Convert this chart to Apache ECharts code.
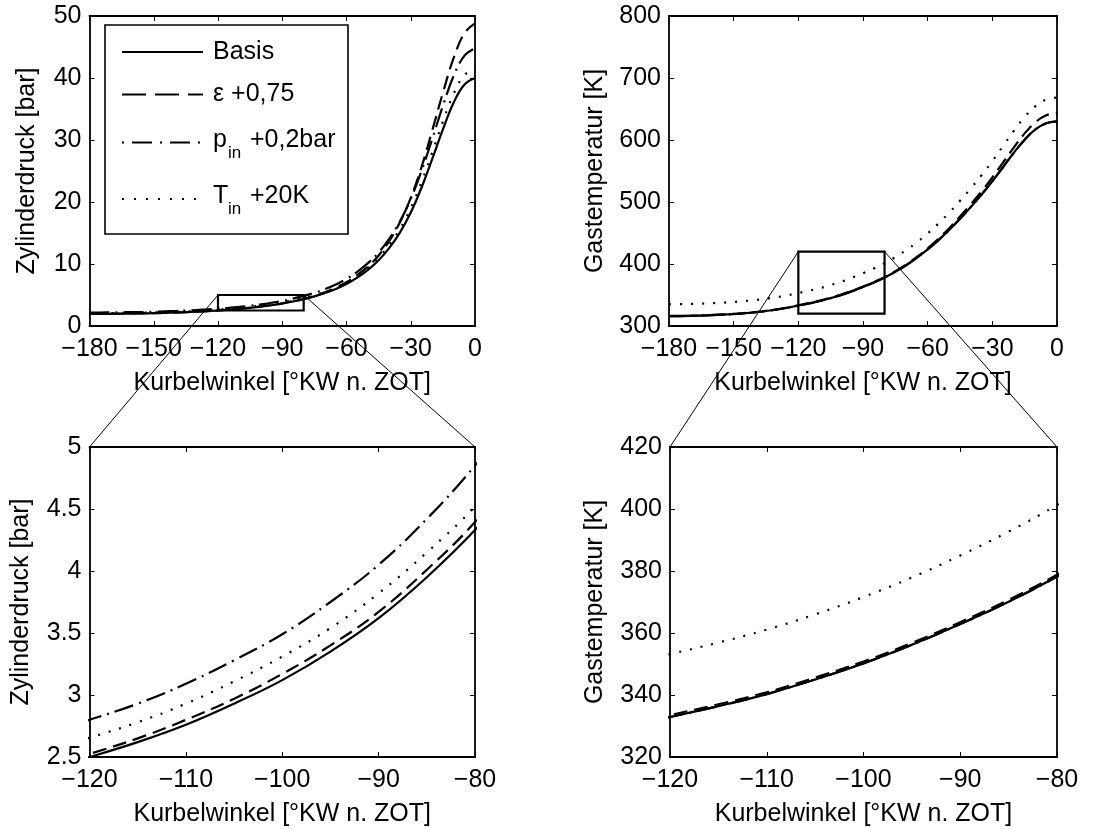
<!DOCTYPE html>
<html><head><meta charset="utf-8">
<script src="https://cdn.jsdelivr.net/npm/echarts/dist/echarts.min.js"></script>
<style>html,body{margin:0;padding:0;background:#fff}#c{width:1097px;height:829px}</style>
</head><body><div id="c"></div>
<script>
// ---- data ----
const angles = [-180,-175,-170,-165,-160,-155,-150,-145,-140,-135,-130,-125,-120,-115,-110,-105,-100,-95,-90,-85,-80,-75,-70,-65,-60,-55,-50,-45,-40,-35,-30,-25,-20,-15,-10,-5,0];

// Zylinderdruck [bar]
const pBasis = [1.95,1.95,1.96,1.975,2.00,2.03,2.065,2.11,2.16,2.225,2.30,2.39,2.50,2.62,2.76,2.93,3.12,3.35,3.62,3.95,4.33,4.78,5.32,5.98,6.78,7.80,9.05,10.6,12.6,15.1,18.3,22.3,26.9,31.7,36.0,38.9,40.0];
const pEps   = [1.97,1.97,1.98,1.99,2.02,2.05,2.08,2.13,2.18,2.24,2.32,2.41,2.525,2.65,2.80,2.97,3.17,3.40,3.67,4.01,4.395,4.88,5.45,6.17,7.05,8.19,9.59,11.38,13.73,16.76,20.68,25.6,31.5,37.6,43.2,47.2,48.8];
const pPin   = [2.18,2.18,2.20,2.21,2.24,2.27,2.31,2.36,2.42,2.49,2.58,2.68,2.80,2.93,3.09,3.28,3.49,3.75,4.05,4.42,4.85,5.35,5.96,6.70,7.59,8.74,10.14,11.87,14.11,16.91,20.50,24.98,30.13,35.50,40.32,43.57,44.8];
const pTin   = [2.07,2.07,2.08,2.10,2.12,2.16,2.19,2.24,2.29,2.36,2.44,2.54,2.655,2.78,2.93,3.11,3.31,3.54,3.82,4.15,4.52,4.99,5.53,6.22,7.05,8.11,9.41,11.02,13.10,15.70,19.03,23.19,27.98,32.97,37.44,40.46,41.6];

// Gastemperatur [K]
const tBasis = [316,316,316.3,316.8,317.5,318.3,319.3,320.6,322.2,324.2,326.6,329.5,332.9,336.4,340.3,345.0,350.2,356.2,362.9,370.1,378.2,387.5,398.0,410.0,423.5,438.5,455.0,473.0,492.0,512.0,533.5,556.5,579.5,600.5,617.0,627.0,630.0];
const tEps   = [316.3,316.3,316.6,317.1,317.8,318.6,319.6,320.9,322.5,324.5,326.9,329.8,333.5,337.0,340.9,345.6,350.8,356.8,363.5,370.7,378.8,388.3,399.0,411.3,425.2,440.7,457.8,476.5,496.3,517.2,539.7,563.9,588.2,610.7,628.7,640.0,643.5];
const tPin   = [316,316,316.3,316.8,317.5,318.3,319.3,320.6,322.2,324.2,326.6,329.5,332.9,336.4,340.3,345.0,350.2,356.2,362.9,370.1,378.2,387.5,398.0,410.0,423.5,438.5,455.0,473.0,492.0,512.0,533.5,556.5,579.5,600.5,617.0,627.0,630.0];
const tTin   = [335.3,335.3,335.6,336.1,336.9,337.7,338.8,340.2,341.9,344.0,346.5,349.6,353.2,356.9,361.1,366.0,371.6,377.9,385.0,392.7,401.3,411.1,422.3,435.0,449.3,465.2,482.8,501.9,522.0,543.2,566.0,590.4,614.8,637.1,654.6,665.3,668.4];

// zoom window
const zoomX = [-120, -80];
const zoomP = [2.5, 5];
const zoomT = [320, 420];

// axis ranges [min, max, interval]
const xRanges = [[-180,0,30],[-180,0,30],[-120,-80,10],[-120,-80,10]];
const yRanges = [[0,50,10],[300,800,100],[2.5,5,0.5],[320,420,20]];
const yNames = ['Zylinderdruck [bar]','Gastemperatur [K]','Zylinderdruck [bar]','Gastemperatur [K]'];
const xName = 'Kurbelwinkel [°KW n. ZOT]';
const legendNames = ['Basis','ε +0,75','p','T'];

// ---- chart ----
const FONT = '"Liberation Sans", Arial, Helvetica, sans-serif';
const FS = 25;
const fmt = v => String(Math.round(v*1000)/1000).replace('-', '\u2212');
const gridPos = [
  {left:89.5, top:16, width:385.5, height:310},
  {left:669, top:16, width:388, height:310},
  {left:89.5, top:447, width:385.5, height:310},
  {left:670, top:447, width:387, height:310}
];
const yGaps = [50, 61, 56, 62];
const styles = [
  {type:'solid'},
  {type:[14,7]},
  {type:[20,6,2,6]},
  {type:[2,9]}
];
const seriesSets = [[pBasis,pEps,pPin,pTin],[tBasis,tEps,tPin,tTin],[pBasis,pEps,pPin,pTin],[tBasis,tEps,tPin,tTin]];

const axLine = {show:true, onZero:false, lineStyle:{color:'#000', width:1.8}};
const axTick = {show:true, inside:true, length:5, lineStyle:{color:'#000', width:1}};
const lab = {show:true, color:'#000', fontSize:FS, fontFamily:FONT, formatter:fmt, showMinLabel:true, showMaxLabel:true};
const nameStyle = {color:'#000', fontSize:FS, fontFamily:FONT};

const grid = [], xAxis = [], yAxis = [], series = [];
gridPos.forEach((g, i) => {
  grid.push(Object.assign({show:false, containLabel:false, outerBoundsMode:'none'}, g));
  const [x0,x1,xi] = xRanges[i], [y0,y1,yi] = yRanges[i];
  xAxis.push({type:'value', gridIndex:i, position:'bottom', min:x0, max:x1, interval:xi,
    axisLine:axLine, axisTick:axTick, splitLine:{show:false},
    axisLabel:Object.assign({margin:11}, lab),
    name:xName, nameLocation:'middle', nameGap:45, nameTextStyle:nameStyle, nameMoveOverlap:false});
  xAxis.push({type:'value', gridIndex:i, position:'top', min:x0, max:x1, interval:xi,
    axisLine:axLine, axisTick:axTick, splitLine:{show:false}, axisLabel:{show:false}});
  yAxis.push({type:'value', gridIndex:i, position:'left', min:y0, max:y1, interval:yi,
    axisLine:axLine, axisTick:axTick, splitLine:{show:false},
    axisLabel:Object.assign({margin:8}, lab),
    name:yNames[i], nameLocation:'middle', nameGap:yGaps[i], nameRotate:90, nameTextStyle:nameStyle, nameMoveOverlap:false});
  yAxis.push({type:'value', gridIndex:i, position:'right', min:y0, max:y1, interval:yi,
    axisLine:axLine, axisTick:axTick, splitLine:{show:false}, axisLabel:{show:false}});
  seriesSets[i].forEach((arr, k) => {
    series.push({type:'line', name:legendNames[k], xAxisIndex:2*i, yAxisIndex:2*i,
      data: angles.map((a, j) => [a, arr[j]]),
      showSymbol:false, symbol:'none', smooth:0.4, clip:true, silent:true,
      lineStyle:Object.assign({color:'#000', width:2.2, cap:'butt'}, styles[k]), z:2+k});
  });
});

const chart = echarts.init(document.getElementById('c'), null, {renderer:'canvas'});
chart.setOption({animation:false, backgroundColor:'#fff', grid, xAxis, yAxis, series});

// ---- zoom boxes, connectors and legend (positions via the chart's own scales) ----
const P = (gi, x, y) => chart.convertToPixel({gridIndex:gi}, [x, y]);
const gfx = [];
function zoomBox(src, dst, yr) {
  const a = P(src, zoomX[0], yr[0]), b = P(src, zoomX[1], yr[0]), c = P(src, zoomX[1], yr[1]), d = P(src, zoomX[0], yr[1]);
  gfx.push({type:'polygon', shape:{points:[a,b,c,d]}, style:{fill:null, stroke:'#000', lineWidth:2.2}, z:50});
  const e = P(dst, zoomX[0], yr[1]), f = P(dst, zoomX[1], yr[1]);
  gfx.push({type:'line', shape:{x1:d[0], y1:d[1], x2:e[0], y2:e[1]}, style:{stroke:'#000', lineWidth:1}, z:50});
  gfx.push({type:'line', shape:{x1:c[0], y1:c[1], x2:f[0], y2:f[1]}, style:{stroke:'#000', lineWidth:1}, z:50});
}
zoomBox(0, 2, zoomP);
zoomBox(1, 3, zoomT);

// legend
gfx.push({type:'rect', shape:{x:105, y:25, width:243, height:209}, style:{fill:'#fff', stroke:'#000', lineWidth:1.6}, z:40});
const legRows = [52, 94.5, 142.5, 199];
const legDash = [null, [24,9], [2,8,20,8], [2,10]];
legRows.forEach((y, k) => {
  gfx.push({type:'line', shape:{x1:122, y1:y, x2:203, y2:y}, style:{stroke:'#000', lineWidth:2.2, lineDash:legDash[k]}, z:41});
});
const txt = (x, y, t, size) => ({type:'text', x, y, z:42,
  style:{text:t, fill:'#000', font: size + 'px ' + FONT, align:'left', verticalAlign:'middle', textAlign:'left', textVerticalAlign:'middle'}});
gfx.push(txt(213, 52, 'Basis', FS));
gfx.push(txt(213, 94, 'ε +0,75', FS));
gfx.push(txt(213, 140, 'p', FS));
gfx.push(txt(228, 153, 'in', 17));
gfx.push(txt(250, 140, '+0,2bar', FS));
gfx.push(txt(213, 196, 'T', FS));
gfx.push(txt(228, 209, 'in', 17));
gfx.push(txt(250, 196, '+20K', FS));

chart.setOption({graphic: gfx});
</script>
</body></html>
